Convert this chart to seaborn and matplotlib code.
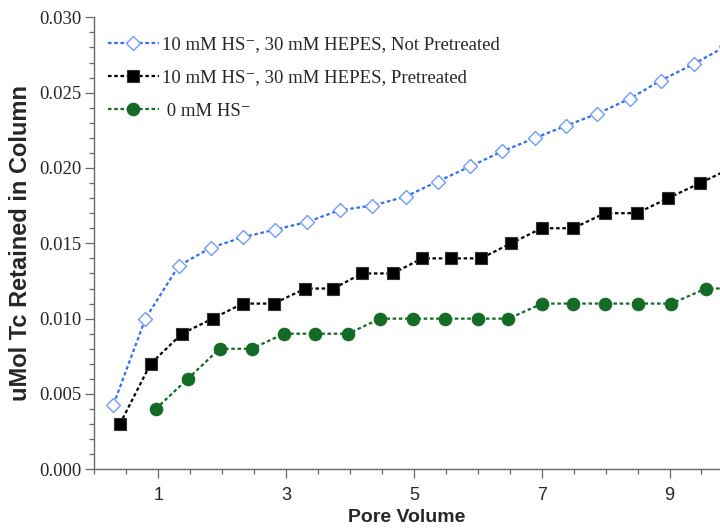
import matplotlib
matplotlib.use("Agg")
import matplotlib.pyplot as plt
import seaborn as sns
import pandas as pd
from matplotlib.ticker import MultipleLocator, FixedLocator

# ---- data ----
x_not_pre = [0.30, 0.80, 1.32, 1.82, 2.32, 2.82, 3.32, 3.84, 4.35, 4.87,
             5.37, 5.88, 6.38, 6.90, 7.38, 7.87, 8.38, 8.86, 9.38, 9.89]
y_not_pre = [0.0043, 0.0100, 0.0135, 0.0147, 0.0154, 0.0159, 0.0164, 0.0172,
             0.0175, 0.0181, 0.0191, 0.0201, 0.0211, 0.0220, 0.0228, 0.0236,
             0.0246, 0.0258, 0.0269, 0.0281]

x_pre = [0.40, 0.88, 1.37, 1.85, 2.32, 2.81, 3.30, 3.74, 4.19, 4.67,
         5.13, 5.58, 6.05, 6.52, 7.00, 7.49, 7.99, 8.49, 8.98, 9.48, 9.97]
y_pre = [0.003, 0.007, 0.009, 0.010, 0.011, 0.011, 0.012, 0.012, 0.013, 0.013,
         0.014, 0.014, 0.014, 0.015, 0.016, 0.016, 0.017, 0.017, 0.018, 0.019, 0.020]

x_zero = [0.96, 1.46, 1.96, 2.46, 2.97, 3.46, 3.97, 4.47, 4.98, 5.49,
          6.00, 6.48, 7.01, 7.49, 7.99, 8.50, 9.03, 9.57, 10.07]
y_zero = [0.004, 0.006, 0.008, 0.008, 0.009, 0.009, 0.009, 0.010, 0.010, 0.010,
          0.010, 0.010, 0.011, 0.011, 0.011, 0.011, 0.011, 0.012, 0.012]

labels = ["10 mM HS\u207b, 30 mM HEPES, Not Pretreated",
          "10 mM HS\u207b, 30 mM HEPES, Pretreated",
          " 0 mM HS\u207b"]
x_ticks = [1, 3, 5, 7, 9]
y_ticks = [0.000, 0.005, 0.010, 0.015, 0.020, 0.025, 0.030]

sns.set_theme(style="white")

fig = plt.figure(figsize=(7.2, 5.29), dpi=100)
ax = fig.add_axes([0.131, 0.1128, 0.869, 0.8545])

dash = (0, (1.6, 1.2))

sns.lineplot(x=x_not_pre, y=y_not_pre, ax=ax, color="#2f6ff0", linewidth=1.6,
             linestyle=dash, marker="D", markersize=7.0,
             markerfacecolor="white", markeredgecolor="#6e9cf7",
             markeredgewidth=1.0, label=labels[0], errorbar=None, sort=False)
sns.lineplot(x=x_pre, y=y_pre, ax=ax, color="black", linewidth=1.6,
             linestyle=dash, marker="s", markersize=8.6,
             markerfacecolor="black", markeredgecolor="#333333",
             markeredgewidth=0.8, label=labels[1], errorbar=None, sort=False)
sns.lineplot(x=x_zero, y=y_zero, ax=ax, color="#146b25", linewidth=1.6,
             linestyle=dash, marker="o", markersize=9.0,
             markerfacecolor="#146b25", markeredgecolor="#146b25",
             markeredgewidth=0.8, label=labels[2], errorbar=None, sort=False)

ax.set_xlim(0, 9.79)
ax.set_ylim(0, 0.030)

ax.xaxis.set_major_locator(FixedLocator(x_ticks))
ax.xaxis.set_minor_locator(MultipleLocator(0.5))
ax.yaxis.set_major_locator(FixedLocator(y_ticks))
ax.yaxis.set_minor_locator(MultipleLocator(0.001))

ax.set_xticklabels([str(t) for t in x_ticks], fontfamily="Liberation Sans",
                   fontsize=13)
ax.set_yticklabels([f"{t:.3f}" for t in y_ticks], fontfamily="Liberation Serif",
                   fontsize=13.5)

ax.tick_params(axis="both", which="major", direction="out", length=6.5,
               width=0.9, color="#666666", bottom=True, left=True)
ax.tick_params(axis="both", which="minor", direction="out", length=3.6,
               width=0.9, color="#666666", bottom=True, left=True)
ax.tick_params(axis="x", which="major", pad=6)
ax.tick_params(axis="y", which="major", pad=3)

for side in ["top", "right"]:
    ax.spines[side].set_visible(False)
for side in ["left", "bottom"]:
    ax.spines[side].set_color("#666666")
    ax.spines[side].set_linewidth(1.0)

ax.set_xlabel("Pore Volume", fontfamily="Liberation Sans", fontweight="bold",
              fontsize=14, labelpad=4)
ax.set_ylabel("uMol Tc Retained in Column", fontfamily="Liberation Sans",
              fontweight="bold", fontsize=17, labelpad=5)

leg = ax.legend(loc="upper left", bbox_to_anchor=(0.022, 0.958), frameon=False,
                borderaxespad=0, borderpad=0, handlelength=2.7,
                handletextpad=0.15, labelspacing=0.85,
                prop={"family": ["Liberation Serif", "DejaVu Serif"], "size": 13.5})

fig.savefig("out.png", dpi=100, facecolor="white")
